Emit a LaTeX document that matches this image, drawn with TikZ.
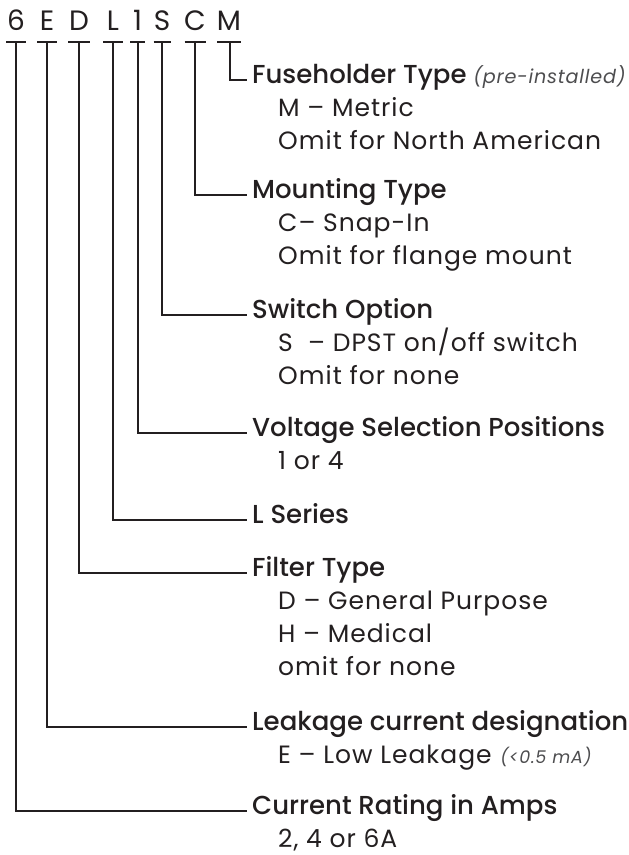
\documentclass[tikz,border=0pt]{standalone}
\usepackage{fontspec}
\setmainfont{Poppins}[LetterSpace=4]
\newfontfamily\headfont{Poppins Medium}
\newfontfamily\topfont{Poppins}
\definecolor{ink}{HTML}{231F20}
\definecolor{note}{HTML}{4D4D4F}
\tikzset{
  toplet/.style={anchor=base, inner sep=0pt, text=ink, font=\topfont\fontsize{28}{28}\selectfont},
  bar/.style={draw=ink, line width=2pt},
  conn/.style={draw=ink, line width=2pt},
  head/.style={anchor=west, inner xsep=5pt, inner ysep=0pt, text height=0.7em, text depth=0pt, text=ink, font=\headfont\fontsize{26}{26}\selectfont},
  body/.style={anchor=west, inner sep=0pt, text height=0.7em, text depth=0pt, text=ink, font=\fontsize{25}{25}\selectfont},
}
\newcommand{\notetext}[2]{\textnormal{\itshape\fontsize{#1}{#1}\selectfont\color{note}#2}}
\begin{document}
\begin{tikzpicture}[x=1pt,y=-1pt]
\useasboundingbox (0,0) rectangle (629,855);
% top letters
\node[toplet] (l6) at (16,30) {6};
\node[toplet] (lE) at (47,30) {E};
\node[toplet] (lD) at (79,30) {D};
\node[toplet] (lL) at (113,30) {L};
\node[toplet] (l1) at (137.5,30) {1};
\node[toplet] (lS) at (162,30) {S};
\node[toplet] (lC) at (195,30) {C};
\node[toplet] (lM) at (229,30) {M};
% T bars
\foreach \x/\w/\n in {16/20/6, 47/20/E, 79/22/D, 113/20/L, 137.5/15/1, 162/17/S, 195/21/C, 229/24/M}{
  \coordinate (t\n) at (\x,42);
  \draw[bar] (\x-\w/2,42) -- (\x+\w/2,42);
}
\coordinate (tM) at (230,42);
% headings
\node[head] (hM) at (247,80) {Fuseholder Type \notetext{19.2}{(pre-installed)}};
\node[head] (hC) at (247,195) {Mounting Type};
\node[head] (hS) at (247,315) {Switch Option};
\node[head] (h1) at (247,433) {Voltage Selection Positions};
\node[head] (hL) at (247,520) {L Series};
\node[head] (hD) at (247,573) {Filter Type};
\node[head] (hE) at (247,727) {Leakage current designation};
\node[head] (h6) at (247,811) {Current Rating in Amps};
% body lines
\node[body] (bM1) at (278,113) {M -- Metric};
\node[body] (bM2) at (278,146) {Omit for North American};
\node[body] (bC1) at (278,228) {C-- Snap-In};
\node[body] (bC2) at (278,261) {Omit for flange mount};
\node[body] (bS1) at (278,348) {S\ \ -- DPST on/off switch};
\node[body] (bS2) at (278,381) {Omit for none};
\node[body] (b11) at (278,466) {1 or 4};
\node[body] (bD1) at (278,606) {D -- General Purpose};
\node[body] (bD2) at (278,639) {H -- Medical};
\node[body] (bD3) at (278,672) {omit for none};
\node[body] (bE1) at (278,760) {E -- Low Leakage \notetext{17.5}{(<0.5 mA)}};
\node[body] (b61) at (278,844) {2, 4 or 6A};
% connectors
\draw[conn] (tM) |- (hM.west);
\draw[conn] (tC) |- (hC.west);
\draw[conn] (tS) |- (hS.west);
\draw[conn] (t1) |- (h1.west);
\draw[conn] (tL) |- (hL.west);
\draw[conn] (tD) |- (hD.west);
\draw[conn] (tE) |- (hE.west);
\draw[conn] (t6) |- (h6.west);
\end{tikzpicture}
\end{document}
